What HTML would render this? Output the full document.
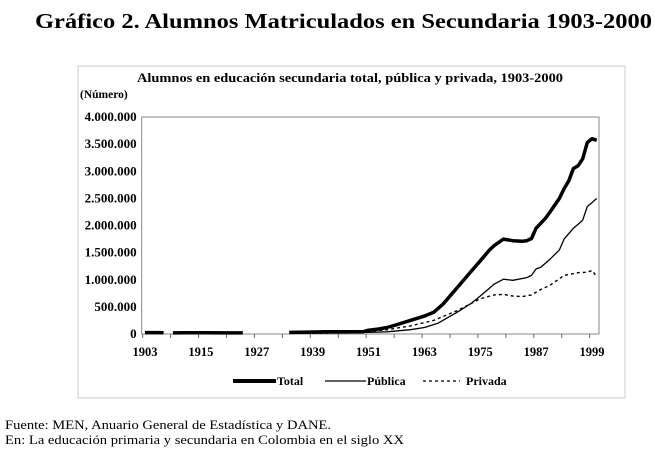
<!DOCTYPE html>
<html><head><meta charset="utf-8"><style>
body{margin:0;background:#fff;width:655px;height:453px;overflow:hidden;font-family:"Liberation Serif",serif;}
svg{position:absolute;left:0;top:0}
</style></head><body>
<svg width="655" height="453">
<text x="35" y="28" font-size="21" font-weight="bold" textLength="617" lengthAdjust="spacingAndGlyphs" font-family="Liberation Serif">Gráfico 2. Alumnos Matriculados en Secundaria 1903-2000</text>
<rect x="78" y="66" width="547" height="332" fill="#fff" stroke="#ccc"/>
<text x="137" y="82" font-size="12.5" font-weight="bold" textLength="426" lengthAdjust="spacingAndGlyphs">Alumnos en educación secundaria total, pública y privada, 1903-2000</text>
<text x="80" y="98" font-size="11.5" font-weight="bold">(Número)</text>
<g id="axes"></g>
<g id="marks"></g>
<g>
<line x1="233" y1="381" x2="276" y2="381" stroke="#000" stroke-width="4"/>
<text x="277" y="385" font-size="12" font-weight="bold">Total</text>
<line x1="325" y1="381" x2="366" y2="381" stroke="#000" stroke-width="1.3"/>
<text x="367" y="385" font-size="12" font-weight="bold">Pública</text>
<line x1="423" y1="381" x2="460" y2="381" stroke="#000" stroke-width="1.3" stroke-dasharray="3,3"/>
<text x="466" y="385" font-size="12" font-weight="bold">Privada</text>
</g>
<text x="5" y="429" font-size="12.5" textLength="326" lengthAdjust="spacingAndGlyphs">Fuente: MEN, Anuario General de Estadística y DANE.</text>
<text x="5" y="444" font-size="12.5" textLength="399" lengthAdjust="spacingAndGlyphs">En: La educación primaria y secundaria en Colombia en el siglo XX</text>
</svg>
<script>
const yTicks=[0,500000,1000000,1500000,2000000,2500000,3000000,3500000,4000000];
const yTickLabels=["0","500.000","1.000.000","1.500.000","2.000.000","2.500.000","3.000.000","3.500.000","4.000.000"];
const xTickLabels=[1903,1915,1927,1939,1951,1963,1975,1987,1999];
const totalYears=[1903,1904,1905,1906,1907,null,1909,1912,1916,1920,1924,null,1934,1938,1942,1946,1950,1951,1953,1955,1957,1960,1963,1965,1967,1970,1973,1975,1977,1978,1980,1982,1984,1985,1986,1987,1989,1990,1992,1993,1994,1995,1996,1997,1998,1999,2000];
const totalValues=[25000,25000,26000,25000,24000,null,20000,22000,22000,20000,20000,null,30000,35000,40000,40000,45000,70000,90000,120000,170000,250000,330000,400000,550000,850000,1150000,1350000,1550000,1630000,1750000,1720000,1710000,1720000,1760000,1950000,2130000,2250000,2500000,2680000,2820000,3050000,3100000,3230000,3530000,3600000,3570000];
const publicaYears=[1934,1946,1951,1955,1960,1963,1966,1970,1973,1975,1978,1980,1982,1985,1986,1987,1988,1990,1992,1993,1995,1996,1997,1998,1999,2000];
const publicaValues=[15000,20000,30000,40000,80000,120000,200000,400000,560000,700000,920000,1010000,990000,1040000,1080000,1200000,1230000,1380000,1550000,1750000,1950000,2020000,2100000,2350000,2420000,2500000];
const privadaYears=[1934,1946,1951,1955,1960,1965,1970,1973,1975,1978,1980,1982,1984,1986,1988,1990,1993,1996,1998,1999,2000];
const privadaValues=[15000,20000,40000,80000,150000,250000,430000,560000,650000,720000,730000,700000,690000,720000,820000,900000,1080000,1130000,1140000,1170000,1060000];
const NS="http://www.w3.org/2000/svg";
const X0=145,DX=(592-145)/96,Y0=334,YT=117;
function xs(y){return X0+(y-1903)*DX;}
function ys(v){return Y0-(v/4000000)*(Y0-YT);}
const axes=document.getElementById('axes'),marks=document.getElementById('marks');
function mk(t,a,p){const e=document.createElementNS(NS,t);for(const k in a)e.setAttribute(k,a[k]);p.appendChild(e);return e;}
const L=xs(1903)-DX*0.5-1,R=xs(2000)+DX*0.5;
const frame=mk('rect',{x:L,y:YT,width:R-L,height:Y0-YT,fill:'none',stroke:'#888','stroke-width':1},axes);


yTicks.forEach((v,i)=>{
 const t=mk('text',{x:L-5,y:ys(v)+4,'text-anchor':'end','font-size':13,'font-weight':'bold'},axes);
 t.textContent=yTickLabels[i];
 
 
});
for(let yr=1903;yr<=2000;yr+=6){
 const l=mk('line',{x1:xs(yr)-DX/2,x2:xs(yr)-DX/2,y1:Y0,y2:Y0+4,stroke:'#666'},axes);
 
 
}
xTickLabels.forEach(yr=>{
 const t=mk('text',{x:xs(yr),y:Y0+22,'text-anchor':'middle','font-size':12.5,'font-weight':'bold'},axes);
 t.textContent=yr;
 
 
});
function series(yrs,vals,w,dash,name){
 let d='',pen=false;
 yrs.forEach((y,i)=>{
  if(y===null||vals[i]===null){pen=false;return;}
  d+=(pen?'L':'M')+xs(y).toFixed(1)+' '+ys(vals[i]).toFixed(1);pen=true;
 });
 const p=mk('path',{d:d,fill:'none',stroke:'#000','stroke-width':w,'stroke-linejoin':'round'},marks);
 if(dash)p.setAttribute('stroke-dasharray',dash);
 
 
}
series(privadaYears,privadaValues,1.4,'3,3','line-privada');
series(publicaYears,publicaValues,1.3,null,'line-publica');
series(totalYears,totalValues,3.5,null,'line-total');
</script>
</body></html>
